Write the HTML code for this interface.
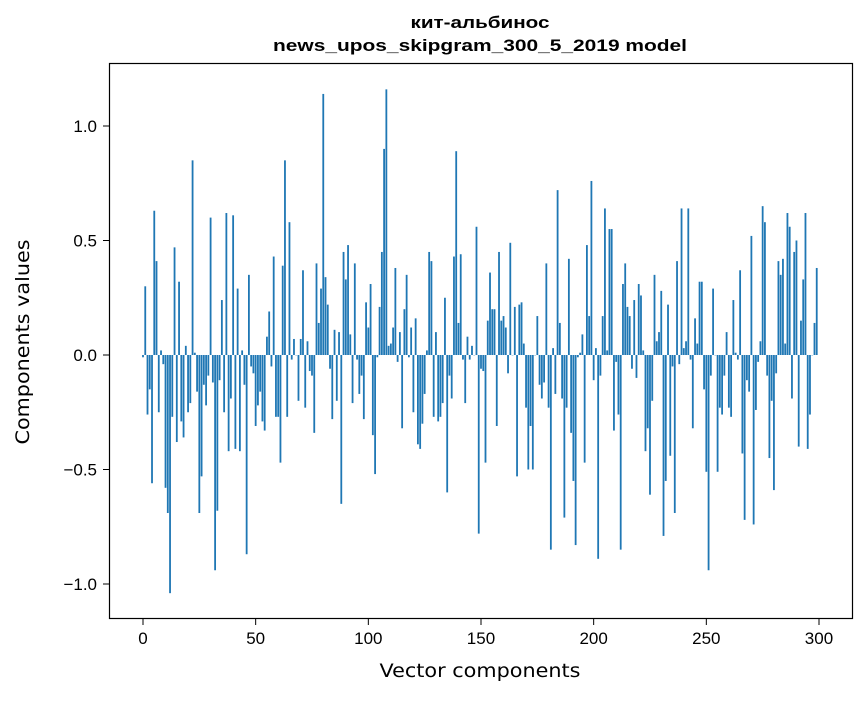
<!DOCTYPE html>
<html><head><meta charset="utf-8"><style>
body{margin:0;background:#fff;}
svg text{font-family:"Liberation Sans","DejaVu Sans",sans-serif;fill:#000;}
svg text.lab{font-family:"DejaVu Sans","Liberation Sans",sans-serif;}
</style></head><body>
<svg id="chart" width="867" height="696" xmlns="http://www.w3.org/2000/svg">
<rect width="867" height="696" fill="#fff"/>
<text x="480" y="28" text-anchor="middle" font-size="17" font-weight="bold" textLength="139" lengthAdjust="spacingAndGlyphs">кит-альбинос</text>
<text x="480" y="51" text-anchor="middle" font-size="17" font-weight="bold" textLength="414" lengthAdjust="spacingAndGlyphs">news_upos_skipgram_300_5_2019 model</text>
<g id="bars"></g>
<rect x="109.5" y="63.5" width="743" height="555" fill="none" stroke="#000" stroke-width="1.2"/>
<g id="xticks"></g>
<g id="yticks"></g>
<text class="lab" x="480" y="677" text-anchor="middle" font-size="19" textLength="201" lengthAdjust="spacingAndGlyphs">Vector components</text>
<text class="lab" transform="translate(29,342) rotate(-90)" text-anchor="middle" font-size="19" textLength="205" lengthAdjust="spacingAndGlyphs">Components values</text>
</svg>
<script>
const values = [-0.01,0.30,-0.26,-0.15,-0.56,0.63,0.41,-0.25,0.02,-0.04,
-0.58,-0.69,-1.04,-0.27,0.47,-0.38,0.32,-0.29,-0.36,0.04,
-0.25,-0.21,0.85,0.01,-0.16,-0.69,-0.53,-0.13,-0.22,-0.09,
0.60,-0.12,-0.94,-0.68,-0.11,0.24,-0.25,0.62,-0.42,-0.19,
0.61,-0.41,0.29,-0.42,0.02,-0.13,-0.87,0.35,-0.05,-0.08,
-0.31,-0.22,-0.16,-0.29,-0.33,0.08,0.19,-0.05,0.43,-0.27,
-0.27,-0.47,0.39,0.85,-0.27,0.58,-0.02,0.07,0.00,-0.20,
0.07,0.37,-0.23,0.06,-0.07,-0.09,-0.34,0.40,0.14,0.29,
1.14,0.34,0.22,-0.06,-0.28,0.11,-0.20,0.10,-0.65,0.45,
0.33,0.48,0.09,-0.21,0.40,-0.02,-0.17,-0.09,-0.28,0.23,
0.12,0.31,-0.35,-0.52,-0.01,0.21,0.45,0.90,1.16,0.04,
0.05,0.12,0.38,-0.03,0.10,-0.32,0.20,0.35,-0.01,0.12,
-0.25,0.16,-0.39,-0.41,-0.30,-0.17,0.02,0.45,0.41,-0.27,
0.10,-0.29,-0.27,-0.21,0.25,-0.60,-0.09,-0.19,0.43,0.89,
0.14,0.44,-0.02,-0.21,0.08,-0.02,0.04,0.00,0.56,-0.78,
-0.06,-0.07,-0.47,0.15,0.36,0.20,0.20,-0.31,0.45,0.15,
0.17,0.12,-0.08,0.49,0.00,0.21,-0.53,0.22,0.23,0.05,
-0.23,-0.50,-0.31,-0.50,0.00,0.17,-0.13,-0.19,-0.12,0.40,
-0.23,-0.85,0.03,-0.17,0.72,0.14,-0.19,-0.71,-0.23,0.42,
-0.34,-0.55,-0.83,-0.01,0.01,0.09,-0.47,0.48,0.17,0.76,
-0.11,0.03,-0.89,-0.09,0.17,0.64,0.02,0.55,0.55,-0.33,
-0.03,-0.26,-0.85,0.31,0.40,0.21,0.17,-0.06,0.24,-0.10,
0.31,0.26,0.02,-0.42,-0.32,-0.61,-0.20,0.35,0.06,0.10,
0.28,-0.79,-0.55,0.22,-0.44,-0.05,-0.69,0.41,-0.04,0.64,
0.03,0.06,0.64,-0.02,-0.32,0.16,0.05,0.32,0.32,-0.15,
-0.51,-0.94,-0.09,0.29,0.00,-0.51,-0.23,-0.26,-0.09,0.10,
-0.23,-0.27,0.24,0.01,-0.02,0.37,-0.43,-0.72,-0.11,-0.16,
0.52,-0.74,-0.24,-0.03,0.06,0.65,0.58,-0.09,-0.45,-0.20,
-0.59,-0.08,0.41,0.35,0.42,0.05,0.62,0.56,-0.19,0.45,
0.50,-0.40,0.15,0.33,0.62,-0.41,-0.26,0.00,0.14,0.38];
const xTicks = [0,50,100,150,200,250,300];
const yTicks = [-1.0,-0.5,0.0,0.5,1.0];
const yTickLabels = ["\u22121.0","\u22120.5","0.0","0.5","1.0"];

const NS="http://www.w3.org/2000/svg";
function xScale(i){return 143 + i*2.2533;}
function yScale(v){return 355 - v*229;}
const barW = 0.8*2.2533;
const gb=document.getElementById('bars');
values.forEach((v,i)=>{
  const r=document.createElementNS(NS,'rect');
  
  
  const y0=yScale(0), y1=yScale(v);
  r.setAttribute('x',xScale(i)-barW/2);
  r.setAttribute('y',Math.min(y0,y1));
  r.setAttribute('width',barW);
  r.setAttribute('height',Math.max(Math.abs(y1-y0),0.3));
  r.setAttribute('fill','#1f77b4');
  gb.appendChild(r);
});
const gx=document.getElementById('xticks');
xTicks.forEach(t=>{
  const x=xScale(t);
  const l=document.createElementNS(NS,'line');
  
  
  l.setAttribute('x1',x);l.setAttribute('x2',x);l.setAttribute('y1',619);l.setAttribute('y2',625);
  l.setAttribute('stroke','#000');
  gx.appendChild(l);
  const tx=document.createElementNS(NS,'text');
  
  
  tx.setAttribute('x',x);tx.setAttribute('y',644);
  tx.setAttribute('text-anchor','middle');tx.setAttribute('font-size','17');
  tx.textContent=t;
  gx.appendChild(tx);
});
const gy=document.getElementById('yticks');
yTicks.forEach((t,k)=>{
  const y=yScale(t);
  const l=document.createElementNS(NS,'line');
  
  
  l.setAttribute('x1',103);l.setAttribute('x2',109);l.setAttribute('y1',y);l.setAttribute('y2',y);
  l.setAttribute('stroke','#000');
  gy.appendChild(l);
  const tx=document.createElementNS(NS,'text');
  
  
  tx.setAttribute('x',97);tx.setAttribute('y',y+6);
  tx.setAttribute('text-anchor','end');tx.setAttribute('font-size','17');
  tx.textContent=yTickLabels[k];
  gy.appendChild(tx);
});
</script>
</body></html>
